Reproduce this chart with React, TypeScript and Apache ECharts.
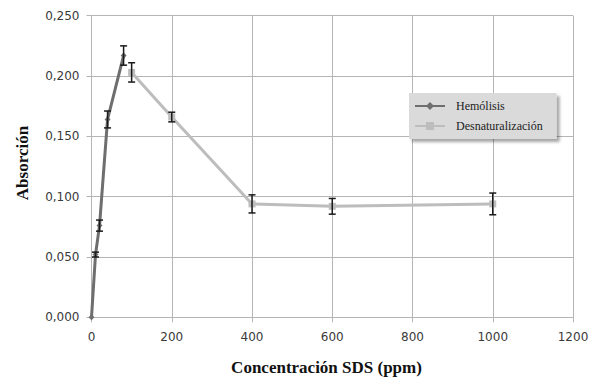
import React, { useEffect, useRef } from "react";
import * as echarts from "echarts";

const hemX = [0, 10, 20, 40, 80];
const hemY = [0.0, 0.052, 0.076, 0.164, 0.217];
const hemErr = [0.0, 0.002, 0.0046, 0.007, 0.008];

const desX = [100, 200, 400, 600, 1000];
const desY = [0.203, 0.166, 0.094, 0.092, 0.094];
const desErr = [0.008, 0.004, 0.0075, 0.0065, 0.009];

const seriesNames = ["Hemólisis", "Desnaturalización"];
const xTitle = "Concentración SDS (ppm)";
const yTitle = "Absorción";

export default function App() {
  const ref = useRef<HTMLDivElement>(null);
  useEffect(() => {
    if (!ref.current) return;
    const chart = echarts.init(ref.current, null, { renderer: "svg" });
    const errData = [
      ...hemX.map((x, i) => [x, hemY[i], hemErr[i]]),
      ...desX.map((x, i) => [x, desY[i], desErr[i]]),
    ].filter((d) => d[2] > 0);
    const gridColor = "#b5b5b5";
    chart.setOption({
      animation: false,
      backgroundColor: "#ffffff",
      grid: { left: 91.5, right: 22, top: 15.7, bottom: 62.7 },
      xAxis: {
        type: "value",
        min: 0,
        max: 1200,
        interval: 200,
        axisLine: { show: true, lineStyle: { color: gridColor, width: 1 } },
        axisTick: { show: true, length: 5, lineStyle: { color: gridColor } },
        splitLine: { show: true, lineStyle: { color: gridColor, width: 1 } },
        axisLabel: {
          color: "#3a3a3a",
          fontFamily: "DejaVu Sans",
          fontSize: 12,
          margin: 14,
          formatter: (v: number) => String(v),
        },
      },
      yAxis: {
        type: "value",
        min: 0,
        max: 0.25,
        interval: 0.05,
        axisLine: { show: true, lineStyle: { color: gridColor, width: 1 } },
        axisTick: { show: true, length: 5, lineStyle: { color: gridColor } },
        splitLine: { show: true, lineStyle: { color: gridColor, width: 1 } },
        axisLabel: {
          color: "#3a3a3a",
          fontFamily: "DejaVu Sans",
          fontSize: 12,
          margin: 12,
          formatter: (v: number) => v.toFixed(3).replace(".", ","),
        },
      },
      legend: {
        orient: "vertical",
        left: 409,
        top: 93,
        data: seriesNames,
        itemWidth: 30,
        itemHeight: 10,
        itemGap: 8,
        padding: [7, 14, 7, 5],
        backgroundColor: "#dadada",
        shadowBlur: 3,
        shadowColor: "rgba(0,0,0,0.35)",
        shadowOffsetX: 3,
        shadowOffsetY: 3,
        textStyle: {
          fontFamily: "Liberation Serif",
          fontSize: 12,
          color: "#222",
          padding: [0, 0, 0, 6],
        },
      },
      series: [
        {
          name: seriesNames[0],
          type: "line",
          data: hemX.map((x, i) => [x, hemY[i]]),
          symbol: "diamond",
          symbolSize: 6,
          lineStyle: { color: "#6e6e6e", width: 3 },
          itemStyle: { color: "#6e6e6e" },
          z: 3,
        },
        {
          name: seriesNames[1],
          type: "line",
          data: desX.map((x, i) => [x, desY[i]]),
          symbol: "rect",
          symbolSize: 7,
          lineStyle: { color: "#bdbdbd", width: 3 },
          itemStyle: { color: "#bdbdbd" },
          z: 3,
        },
        {
          type: "custom",
          name: "err",
          data: errData,
          encode: { x: 0, y: 1 },
          z: 5,
          renderItem: (params: any, api: any) => {
            const x = api.value(0);
            const y = api.value(1);
            const e = api.value(2);
            const top = api.coord([x, y + e]);
            const bot = api.coord([x, y - e]);
            const w = 3.5;
            const style = { stroke: "#1a1a1a", lineWidth: 1.5 };
            return {
              type: "group",
              children: [
                { type: "line", shape: { x1: top[0], y1: top[1], x2: bot[0], y2: bot[1] }, style },
                { type: "line", shape: { x1: top[0] - w, y1: top[1], x2: top[0] + w, y2: top[1] }, style },
                { type: "line", shape: { x1: bot[0] - w, y1: bot[1], x2: bot[0] + w, y2: bot[1] }, style },
              ],
            };
          },
        },
      ],
      graphic: [
        {
          type: "text",
          x: 326.5,
          y: 367,
          style: {
            text: xTitle,
            fontFamily: "Liberation Serif",
            fontWeight: "bold",
            fontSize: 17,
            fill: "#111",
            textAlign: "center",
            textVerticalAlign: "middle",
          },
        },
        {
          type: "text",
          x: 22.5,
          y: 163,
          rotation: Math.PI / 2,
          style: {
            text: yTitle,
            fontFamily: "Liberation Serif",
            fontWeight: "bold",
            fontSize: 17,
            fill: "#111",
            textAlign: "center",
            textVerticalAlign: "middle",
          },
        },
      ],
    });
    return () => chart.dispose();
  }, []);
  return (
    <div
      ref={ref}
      style={{ position: "fixed", left: 0, top: 0, width: 595, height: 380 }}
    />
  );
}
